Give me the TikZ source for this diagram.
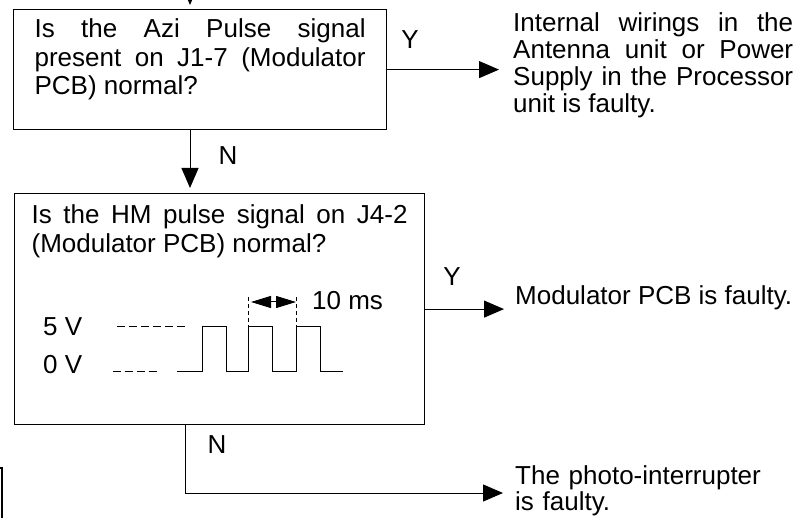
\documentclass[tikz,border=0pt]{standalone}
\usepackage{fontspec}
\setmainfont{Liberation Sans}
\usepackage{tikz}
\usetikzlibrary{arrows.meta,positioning,calc}
\newcommand{\diagfont}{\fontsize{26pt}{28.5pt}\selectfont}
\tikzset{
  >={Triangle[length=20pt,width=17pt]},
  flow/.style={->,line width=1pt},
  qbox/.style={draw,line width=1.2pt,align=justify,inner ysep=9pt,
    font=\diagfont,text height=19pt},
  result/.style={align=justify,inner sep=0pt,anchor=base west,font=\diagfont},
  lbl/.style={inner sep=0pt,font=\diagfont},
  level/.style={line width=1pt,dash pattern=on 8pt off 4pt},
  tick/.style={line width=1pt,dash pattern=on 4pt off 3pt},
  dimflow/.style={{Triangle[length=20pt,width=12pt]}-{Triangle[length=20pt,width=12pt]},line width=1pt}
}
\begin{document}
\begin{tikzpicture}[x=1pt,y=-1pt]
  \clip (0,0) rectangle (803,518);

  \node[qbox,anchor=north west,text width=331pt,inner xsep=21pt,text depth=83pt] (q1) at (13,9)
    {Is the Azi Pulse signal\linebreak present on J1-7 (Modulator\linebreak PCB) normal?};
  \node[qbox,anchor=north west,text width=376pt,inner xsep=17pt,inner ysep=11pt,text depth=190pt] (q2) at (14,193)
    {Is the HM pulse signal on J4-2\linebreak (Modulator PCB) normal?};

  \node[result,text width=280pt,font=\fontsize{26pt}{27pt}\selectfont] (t1) at (513,32)
    {Internal wirings in the\linebreak Antenna unit or Power\linebreak Supply in the Processor\linebreak unit is faulty.};
  \node[result] (t2) at (515,305) {Modulator PCB is faulty.};
  \node[result,text width=270pt,align=left,font=\fontsize{26pt}{26pt}\selectfont] (t3) at (515,484)
    {The photo-interrupter\\is faulty.};

  % pulse diagram
  \node[lbl,anchor=west] (v5) at (43,327) {5 V};
  \node[lbl,anchor=west] (v0) at (43,365) {0 V};
  \node[lbl,anchor=west] (period) at (312,301) {10 ms};
  \draw[level] (117,327) -- (185,327);
  \draw[level] (113,372) -- (158,372);
  \draw[line width=1pt] (177,372) foreach \p in {202,248,296} { -- (\p,372) -- (\p,327) -- ++(24,0) -- ++(0,45) } -- (343,372);
  \foreach \p in {248,296} \draw[tick] (\p,297) -- (\p,327);
  \draw[dimflow] (251,302) -- (296,302);

  % connectors
  \coordinate (in) at (190,-20);
  \coordinate (n2) at ($(q2.south west)+(171,0)$);
  \draw[flow,shorten >=4pt] (in) -- (in |- q1.north);
  \draw[flow,shorten >=5pt] (in |- q1.south) -- (in |- q2.north);
  \draw[flow,shorten >=14pt] (q1.east) -- (q1.east -| t1.west);
  \draw[flow,shorten >=11pt] (q2.east) -- (q2.east -| t2.west);
  \draw[flow,shorten >=12pt] (n2) |- ($(t3.base west)+(0,9)$);

  \node[lbl] (y1) at (410,40) {Y};
  \node[lbl] (n1) at (228,156) {N};
  \node[lbl] (y2) at (452,277) {Y};
  \node[lbl] (n3) at (217,445) {N};

  % edge of the next box
  \draw[line width=1.2pt] (-1,468) -- (2,468) -- (2,520);
\end{tikzpicture}
\end{document}
